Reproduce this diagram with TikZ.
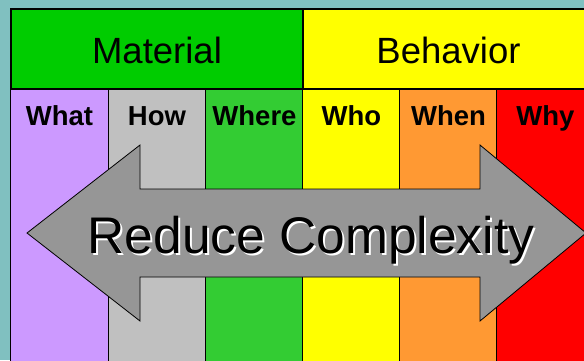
\documentclass[tikz,border=0pt]{standalone}
\usepackage{fontspec}
\setmainfont{Liberation Sans}
\usetikzlibrary{positioning}
\definecolor{bgteal}{RGB}{128,192,192}
\definecolor{matgreen}{RGB}{0,204,0}
\definecolor{behyellow}{RGB}{255,255,0}
\definecolor{whatlilac}{RGB}{204,153,255}
\definecolor{howgray}{RGB}{192,192,192}
\definecolor{wheregreen}{RGB}{51,204,51}
\definecolor{whenorange}{RGB}{255,153,51}
\definecolor{whyred}{RGB}{255,0,0}
\definecolor{arrowgray}{RGB}{150,150,150}
\tikzset{cell/.style={draw=black, line width=1.1pt, inner sep=0pt},
         headcell/.style={cell, minimum height=80pt},
         colcell/.style={cell, minimum width=97.4pt, minimum height=290pt},
         collabel/.style={anchor=base, font=\fontsize{27.5}{27.5}\selectfont\bfseries},
         headlabel/.style={anchor=base, font=\fontsize{36.5}{36.5}\selectfont}}

\begin{document}
\begin{tikzpicture}[x=1pt,y=-1pt]
\useasboundingbox (0,0) rectangle (584,360);
\clip (0,0) rectangle (584,360);
\fill[bgteal] (0,0) rectangle (584,360);

% top band
\node[headcell, fill=matgreen, minimum width=292pt] (material) at (157,49) {};
\node[headcell, fill=behyellow, minimum width=291pt] (behavior) at (448.5,49) {};
\node[headlabel] (material-l) at (157,63) {Material};
\node[headlabel] (behavior-l) at (448.5,63) {Behavior};

% columns
\node[colcell, fill=whatlilac] (what) at (59.5,234) {};
\node[colcell, fill=howgray] (how) at (157,234) {};
\node[colcell, fill=wheregreen] (where) at (254.5,234) {};
\node[colcell, fill=behyellow] (who) at (351.5,234) {};
\node[colcell, fill=whenorange] (when) at (448.5,234) {};
\node[colcell, fill=whyred] (why) at (545.5,234) {};

\node[collabel] (what-l) at (59.5,125) {What};
\node[collabel] (how-l) at (157,125) {How};
\node[collabel] (where-l) at (254.5,125) {Where};
\node[collabel] (who-l) at (351.5,125) {Who};
\node[collabel] (when-l) at (448.5,125) {When};
\node[collabel] (why-l) at (545.5,125) {Why};

% double arrow
\draw[fill=arrowgray, line width=0.8pt, line join=miter]
  (27,233) -- (140,145) -- (140,189) -- (480,189) -- (480,145) -- (586,233)
  -- (480,321) -- (480,277) -- (140,277) -- (140,321) -- cycle;
\node[anchor=base, white, font=\fontsize{51.5}{51.5}\selectfont] (reduce-s) at (313,255) {Reduce Complexity};
\node[anchor=base, black, font=\fontsize{51.5}{51.5}\selectfont] (reduce) at (311,253) {Reduce Complexity};
\end{tikzpicture}
\end{document}
